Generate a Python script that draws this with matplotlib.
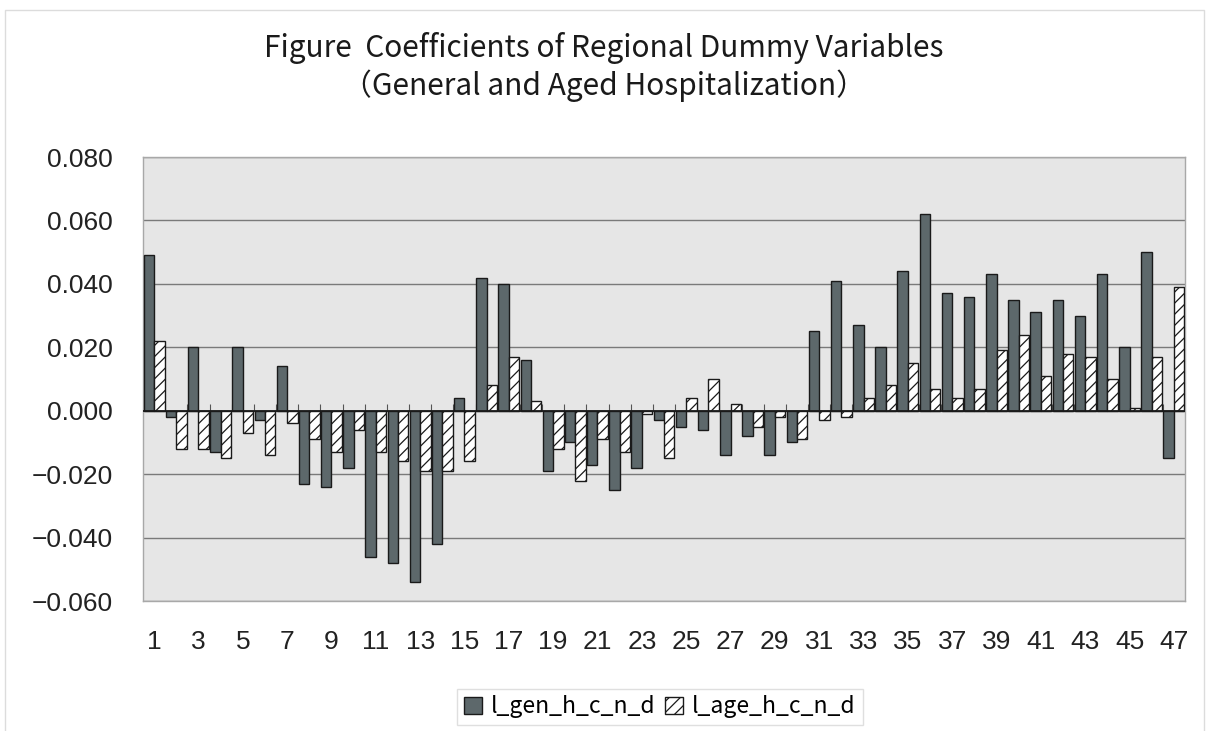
import matplotlib
matplotlib.use('Agg')
import matplotlib.pyplot as plt
from matplotlib.patches import Rectangle
from matplotlib.ticker import FuncFormatter
import numpy as np

# regional dummy coefficients, prefectures 1..47
regions = list(range(1, 48))

l_gen_h_c_n_d = [0.049, -0.002, 0.020, -0.013, 0.020, -0.003, 0.014, -0.023, -0.024, -0.018,
                 -0.046, -0.048, -0.054, -0.042, 0.004, 0.042, 0.040, 0.016, -0.019, -0.010,
                 -0.017, -0.025, -0.018, -0.003, -0.005, -0.006, -0.014, -0.008, -0.014, -0.010,
                 0.025, 0.041, 0.027, 0.020, 0.044, 0.062, 0.037, 0.036, 0.043, 0.035,
                 0.031, 0.035, 0.030, 0.043, 0.020, 0.050, -0.015]

l_age_h_c_n_d = [0.022, -0.012, -0.012, -0.015, -0.007, -0.014, -0.004, -0.009, -0.013, -0.006,
                 -0.013, -0.016, -0.019, -0.019, -0.016, 0.008, 0.017, 0.003, -0.012, -0.022,
                 -0.009, -0.013, -0.001, -0.015, 0.004, 0.010, 0.002, -0.005, -0.002, -0.009,
                 -0.003, -0.002, 0.004, 0.008, 0.015, 0.007, 0.004, 0.007, 0.019, 0.024,
                 0.011, 0.018, 0.017, 0.010, 0.001, 0.017, 0.039]

title = 'Figure  Coefficients of Regional Dummy Variables\n（General and Aged Hospitalization）'

plt.rcParams['hatch.linewidth'] = 0.9

fig = plt.figure(figsize=(12.15, 7.31), dpi=100)
ax = fig.add_axes([0.1177, 0.1778, 0.8576, 0.6074])

x = np.array(regions)
w = 0.47
ax.bar(x - w / 2, l_gen_h_c_n_d, width=w, color='#5d686b', edgecolor='#1a1a1a',
       linewidth=1.0, label='l_gen_h_c_n_d', zorder=3)
ax.bar(x + w / 2, l_age_h_c_n_d, width=w, color='white', edgecolor='#1a1a1a',
       linewidth=1.0, hatch='///', label='l_age_h_c_n_d', zorder=3)

ax.set_facecolor('#e6e6e6')
ax.set_xlim(0.5, 47.5)
ax.set_ylim(-0.06, 0.08)
ax.set_yticks(np.arange(-0.06, 0.0801, 0.02))
ax.yaxis.set_major_formatter(FuncFormatter(lambda v, p: f'{v:.3f}'.replace('-', '\u2212')
                                           if abs(v) > 1e-9 else '0.000'))
ax.grid(axis='y', color='#7a7a7a', linewidth=1.0, zorder=1)
ax.axhline(0, color='#1a1a1a', linewidth=1.3, zorder=4)

ax.set_xticks(regions[::2])
ax.set_xticklabels([str(r) for r in regions[::2]])
ax.tick_params(axis='x', length=0, pad=21, labelsize=19)
ax.tick_params(axis='y', length=0, pad=22, labelsize=19)
for lab in ax.get_xticklabels() + ax.get_yticklabels():
    lab.set_fontfamily('Liberation Sans')
    lab.set_color('#222222')

for s in ax.spines.values():
    s.set_color('#a8a8a8')
    s.set_linewidth(1.0)

# category tick marks along the zero line
sec = ax.secondary_xaxis(0.06 / 0.14)
sec.set_xticks(np.arange(1.5, 47, 1.0))
sec.tick_params(axis='x', direction='in', length=5, color='#555555', labelbottom=False)
sec.spines['bottom'].set_visible(False)

fig.text(0.497, 0.908, title, ha='center', va='center', fontsize=21.5,
         family=['Noto Sans CJK JP', 'DejaVu Sans'], color='#1a1a1a', linespacing=1.2)

leg = fig.legend(loc='center', bbox_to_anchor=(0.543, 0.033), ncol=2, frameon=True,
                 fancybox=False, edgecolor='#d8d8d8', handlelength=0.8, handleheight=0.8,
                 handletextpad=0.4, columnspacing=0.4, borderpad=0.3,
                 prop={'family': ['Noto Sans CJK JP', 'DejaVu Sans'], 'size': 16.5})

# faint outer chart frame
fig.patches.append(Rectangle((0.004, -0.01), 0.987, 0.996, transform=fig.transFigure,
                             fill=False, edgecolor='#dcdcdc', linewidth=1.0))

fig.savefig('out.png', dpi=100, facecolor='white')
